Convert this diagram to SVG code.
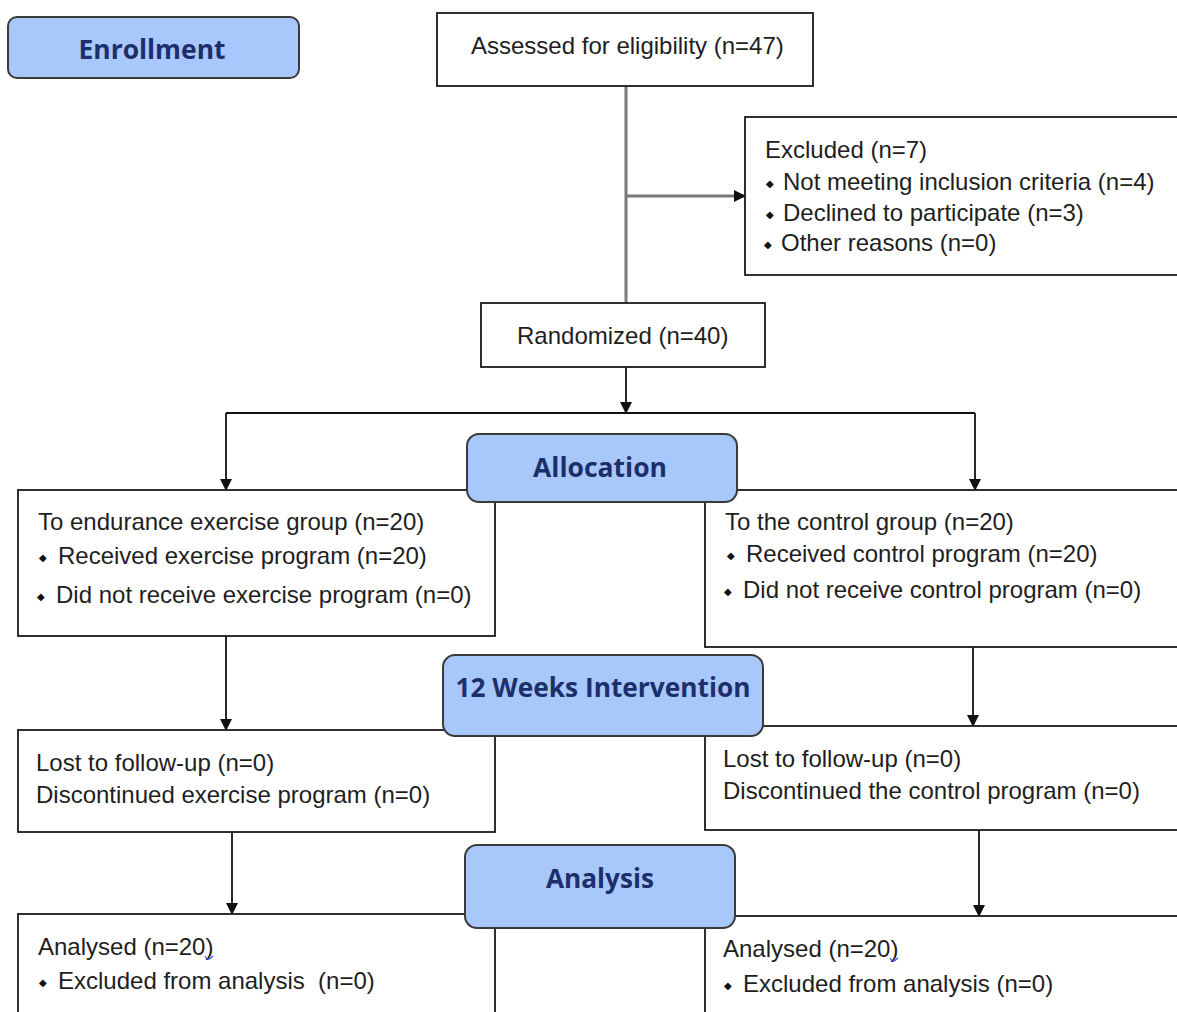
<svg xmlns="http://www.w3.org/2000/svg" width="1177" height="1012" viewBox="0 0 1177 1012">
<style>
.box{fill:#fff;stroke:#1a1a1a;stroke-width:1.8}
.hd{fill:#a8c7fa;stroke:#3a3a3a;stroke-width:2}
.hdt{font-family:"Open Sans","Noto Sans",sans-serif;font-weight:700;font-size:26px;fill:#1c2f6b;text-anchor:middle}
.t{font-family:"Liberation Sans",Arial,sans-serif;font-size:24px;fill:#1e1e1e;white-space:pre}
.b{font-family:"DejaVu Sans",sans-serif;font-size:10px;fill:#111}
.gl{stroke:#7a7a7a;stroke-width:3;fill:none}
.bl{stroke:#111;stroke-width:1.8;fill:none}
</style>
<defs>
<marker id="ah" markerUnits="userSpaceOnUse" markerWidth="12" markerHeight="12" refX="11" refY="6" orient="auto">
<path d="M0,0 L12,6 L0,12 z" fill="#111"/>
</marker>
</defs>
<rect width="1177" height="1012" fill="#fff"/>
<g id="connectors">
<line class="gl" x1="626" y1="86" x2="626" y2="303"/>
<line class="gl" x1="626" y1="196" x2="745" y2="196" marker-end="url(#ah)"/>
<line class="bl" x1="626" y1="367" x2="626" y2="413" marker-end="url(#ah)"/>
<line class="bl" x1="226" y1="413" x2="975" y2="413"/>
<line class="bl" x1="226" y1="413" x2="226" y2="490" marker-end="url(#ah)"/>
<line class="bl" x1="975" y1="413" x2="975" y2="490" marker-end="url(#ah)"/>
<line class="bl" x1="226" y1="636" x2="226" y2="730" marker-end="url(#ah)"/>
<line class="bl" x1="973" y1="633" x2="973" y2="726" marker-end="url(#ah)"/>
<line class="bl" x1="232" y1="832" x2="232" y2="914" marker-end="url(#ah)"/>
<line class="bl" x1="979" y1="830" x2="979" y2="916" marker-end="url(#ah)"/>
</g>
<g id="assessed">
<rect class="box" x="437" y="13" width="376" height="73"/>
<text class="t" x="471" y="54">Assessed for eligibility (n=47)</text>
</g>
<g id="excluded">
<rect class="box" x="745" y="117" width="440" height="158"/>
<text class="t" x="765" y="158">Excluded (n=7)</text>
<text class="b" x="766" y="187">◆</text><text class="t" x="783" y="190">Not meeting inclusion criteria (n=4)</text>
<text class="b" x="766" y="218">◆</text><text class="t" x="783" y="221">Declined to participate (n=3)</text>
<text class="b" x="764" y="248">◆</text><text class="t" x="781" y="251">Other reasons (n=0)</text>
</g>
<g id="randomized">
<rect class="box" x="481" y="303" width="284" height="64"/>
<text class="t" x="517" y="344">Randomized (n=40)</text>
</g>
<g id="exercise-group">
<rect class="box" x="18" y="490" width="477" height="146"/>
<text class="t" x="38" y="530">To endurance exercise group (n=20)</text>
<text class="b" x="39" y="561">◆</text><text class="t" x="58" y="564">Received exercise program (n=20)</text>
<text class="b" x="37" y="600">◆</text><text class="t" x="56" y="603">Did not receive exercise program (n=0)</text>
</g>
<g id="control-group">
<rect class="box" x="705" y="490" width="480" height="157"/>
<text class="t" x="725" y="530">To the control group (n=20)</text>
<text class="b" x="727" y="559">◆</text><text class="t" x="746" y="562">Received control program (n=20)</text>
<text class="b" x="724" y="595">◆</text><text class="t" x="743" y="598">Did not receive control program (n=0)</text>
</g>
<g id="exercise-followup">
<rect class="box" x="18" y="730" width="477" height="102"/>
<text class="t" x="36" y="771">Lost to follow-up (n=0)</text>
<text class="t" x="36" y="803">Discontinued exercise program (n=0)</text>
</g>
<g id="control-followup">
<rect class="box" x="705" y="726" width="480" height="104"/>
<text class="t" x="723" y="767">Lost to follow-up (n=0)</text>
<text class="t" x="723" y="799">Discontinued the control program (n=0)</text>
</g>
<g id="exercise-analysed">
<rect class="box" x="18" y="914" width="477" height="110"/>
<text class="t" x="38" y="955">Analysed (n=20)</text>
<path d="M205,956 q2,4 4,3 q2,-1 4,-3" fill="none" stroke="#3a4cf0" stroke-width="1.2"/>
<text class="b" x="39" y="986">◆</text><text class="t" x="58" y="989" xml:space="preserve">Excluded from analysis  (n=0)</text>
</g>
<g id="control-analysed">
<rect class="box" x="705" y="916" width="480" height="110"/>
<text class="t" x="723" y="957">Analysed (n=20)</text>
<path d="M890,958 q2,4 4,3 q2,-1 4,-3" fill="none" stroke="#3a4cf0" stroke-width="1.2"/>
<text class="b" x="724" y="989">◆</text><text class="t" x="743" y="992">Excluded from analysis (n=0)</text>
</g>
<g id="enrollment">
<rect class="hd" x="8" y="17" width="291" height="61" rx="9"/>
<text class="hdt" x="152" y="59" textLength="147" lengthAdjust="spacingAndGlyphs">Enrollment</text>
</g>
<g id="allocation">
<rect class="hd" x="467" y="434" width="270" height="68" rx="12"/>
<text class="hdt" x="600" y="477" textLength="134" lengthAdjust="spacingAndGlyphs">Allocation</text>
</g>
<g id="intervention">
<rect class="hd" x="443" y="655" width="320" height="81" rx="12"/>
<text class="hdt" x="603" y="697" textLength="295" lengthAdjust="spacingAndGlyphs">12 Weeks Intervention</text>
</g>
<g id="analysis">
<rect class="hd" x="465" y="845" width="270" height="83" rx="12"/>
<text class="hdt" x="600" y="888" textLength="108" lengthAdjust="spacingAndGlyphs">Analysis</text>
</g>
</svg>
